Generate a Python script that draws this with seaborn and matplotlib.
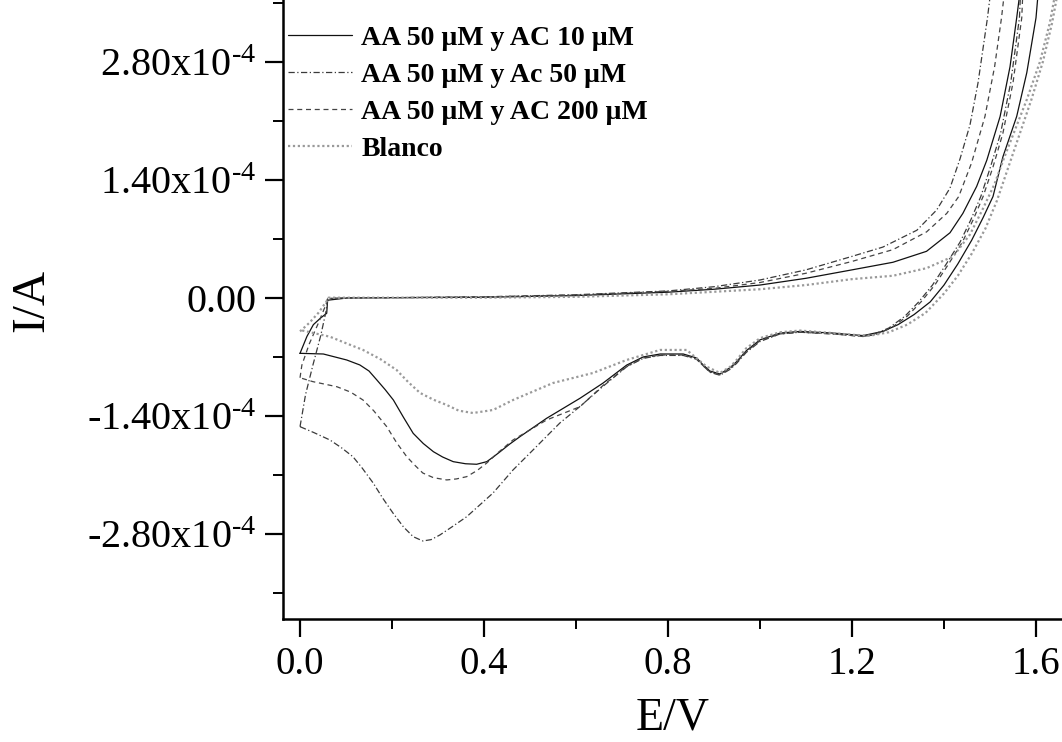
import numpy as np
import pandas as pd
import matplotlib
matplotlib.use("Agg")
import matplotlib.pyplot as plt
import seaborn as sns
from matplotlib.ticker import FixedLocator, FuncFormatter, MultipleLocator

# ---------------- data (E in V, I in units of 1e-4 A) ----------------
labels = ["AA 50 \u00b5M y AC 10 \u00b5M", "AA 50 \u00b5M y Ac 50 \u00b5M",
          "AA 50 \u00b5M y AC 200 \u00b5M", "Blanco"]

E_ac10 = [0.000, 0.015, 0.029, 0.045, 0.058, 0.060, 0.10, 0.2, 0.4, 0.6, 0.8, 0.9, 1.0, 1.1, 1.2,
          1.289, 1.362, 1.413, 1.441, 1.471, 1.493, 1.522, 1.5435, 1.558, 1.567,
          1.606, 1.600, 1.580, 1.558, 1.528, 1.5065, 1.485, 1.46, 1.43, 1.40, 1.37, 1.335, 1.30,
          1.267, 1.224, 1.159, 1.087, 1.0435, 1.0, 0.97, 0.949, 0.935, 0.913, 0.891, 0.875,
          0.862, 0.833, 0.783, 0.746, 0.710, 0.659, 0.6087, 0.536, 0.478, 0.455, 0.435, 0.42,
          0.406, 0.384, 0.36, 0.333, 0.31, 0.290, 0.268, 0.246, 0.225, 0.203, 0.185, 0.167,
          0.15, 0.130, 0.1015, 0.0507, 0.000]
I_ac10 = [-0.66, -0.46, -0.32, -0.24, -0.185, -0.03, -0.005, 0.0, 0.005, 0.025, 0.065, 0.10, 0.15,
          0.23, 0.33, 0.42, 0.55, 0.77, 1.0, 1.32, 1.63, 2.15, 2.74, 3.32, 3.7,
          3.7, 3.32, 2.67, 2.15, 1.67, 1.20, 0.95, 0.68, 0.40, 0.15, -0.05, -0.20, -0.32,
          -0.40, -0.45, -0.42, -0.40, -0.42, -0.50, -0.63, -0.76, -0.83, -0.905, -0.87, -0.79,
          -0.715, -0.668, -0.668, -0.703, -0.80, -1.012, -1.193, -1.431, -1.649, -1.74, -1.827,
          -1.89, -1.945, -1.976, -1.97, -1.945, -1.89, -1.827, -1.73, -1.609, -1.42, -1.214,
          -1.09, -0.976, -0.87, -0.798, -0.739, -0.668, -0.66]

E_ac50 = [0.000, 0.012, 0.028, 0.045, 0.057, 0.060, 0.1, 0.2, 0.4, 0.6, 0.8, 0.9, 1.0, 1.1, 1.2,
          1.267, 1.341, 1.384, 1.413, 1.435, 1.4565, 1.474, 1.4945, 1.503,
          1.567, 1.564, 1.545, 1.523, 1.501, 1.480, 1.458, 1.435, 1.405, 1.375, 1.345, 1.315,
          1.28, 1.245, 1.224, 1.159, 1.087, 1.0435, 1.0, 0.97, 0.949, 0.935, 0.913, 0.891,
          0.875, 0.862, 0.833, 0.783, 0.746, 0.710, 0.659, 0.6087, 0.565, 0.5065, 0.463,
          0.4196, 0.3624, 0.33, 0.304, 0.285, 0.267, 0.246, 0.225, 0.202, 0.18, 0.159, 0.135,
          0.115, 0.09, 0.065, 0.03, 0.000]
I_ac50 = [-1.53, -1.15, -0.80, -0.45, -0.15, -0.01, 0.0, 0.0, 0.01, 0.035, 0.08, 0.13, 0.21, 0.33,
          0.49, 0.60, 0.80, 1.04, 1.30, 1.65, 2.05, 2.55, 3.32, 3.7,
          3.7, 3.32, 2.55, 1.95, 1.55, 1.20, 0.92, 0.66, 0.40, 0.15, -0.05, -0.22,
          -0.36, -0.44, -0.46, -0.43, -0.41, -0.43, -0.52, -0.65, -0.78, -0.85, -0.92, -0.885,
          -0.80, -0.73, -0.685, -0.685, -0.72, -0.82, -1.05, -1.29, -1.486, -1.807, -2.044,
          -2.317, -2.598, -2.72, -2.815, -2.87, -2.886, -2.835, -2.72, -2.554, -2.38, -2.198,
          -2.02, -1.886, -1.78, -1.688, -1.60, -1.53]

E_ac200 = [0.000, 0.004, 0.02, 0.04, 0.055, 0.060, 0.1, 0.2, 0.4, 0.6, 0.8, 0.9, 1.0, 1.1, 1.2,
           1.289, 1.362, 1.406, 1.432, 1.46, 1.489, 1.51, 1.525, 1.533,
           1.572, 1.569, 1.55, 1.528, 1.5065, 1.485, 1.463, 1.44, 1.41, 1.38, 1.35, 1.32,
           1.285, 1.25, 1.224, 1.159, 1.087, 1.0435, 1.0, 0.97, 0.949, 0.935, 0.913, 0.891,
           0.875, 0.862, 0.833, 0.783, 0.746, 0.710, 0.659, 0.6087, 0.536, 0.463, 0.43, 0.406,
           0.385, 0.3624, 0.34, 0.319, 0.29, 0.267, 0.25, 0.232, 0.21, 0.1885, 0.16, 0.137,
           0.11, 0.08, 0.028, 0.000]
I_ac200 = [-0.95, -0.80, -0.55, -0.30, -0.10, -0.01, 0.0, 0.0, 0.01, 0.03, 0.075, 0.11, 0.18, 0.29,
           0.43, 0.57, 0.78, 1.0, 1.2, 1.60, 2.15, 2.74, 3.32, 3.7,
           3.7, 3.32, 2.55, 1.95, 1.55, 1.20, 0.92, 0.66, 0.40, 0.15, -0.05, -0.22,
           -0.36, -0.44, -0.46, -0.43, -0.41, -0.43, -0.51, -0.64, -0.77, -0.84, -0.915, -0.88,
           -0.80, -0.725, -0.68, -0.68, -0.715, -0.815, -1.04, -1.293, -1.451, -1.688, -1.84,
           -1.961, -2.05, -2.123, -2.15, -2.162, -2.135, -2.08, -1.99, -1.886, -1.72, -1.53,
           -1.34, -1.214, -1.12, -1.056, -0.996, -0.95]

E_blanco = [0.000, 0.02, 0.04, 0.058, 0.062, 0.1, 0.2, 0.4, 0.6, 0.8, 1.0, 1.1, 1.2, 1.289, 1.362,
            1.42, 1.4565, 1.485, 1.51, 1.53, 1.555, 1.58, 1.6087, 1.63, 1.645,
            1.65, 1.635, 1.615, 1.59, 1.565, 1.54, 1.515, 1.49, 1.46, 1.43, 1.40, 1.36, 1.32,
            1.28, 1.24, 1.2, 1.159, 1.087, 1.0435, 1.0, 0.97, 0.949, 0.935, 0.913, 0.884, 0.8406,
            0.7826, 0.71, 0.637, 0.55, 0.463, 0.4196, 0.376, 0.345, 0.319, 0.29, 0.261, 0.235,
            0.210, 0.175, 0.137, 0.10, 0.065, 0.000]
I_blanco = [-0.40, -0.30, -0.18, -0.04, 0.0, 0.0, 0.0, 0.0, 0.01, 0.04, 0.10, 0.15, 0.22, 0.26, 0.35,
            0.49, 0.75, 1.06, 1.35, 1.65, 2.0, 2.35, 2.8, 3.26, 3.7,
            3.7, 3.26, 2.8, 2.35, 1.95, 1.55, 1.15, 0.82, 0.52, 0.26, 0.05, -0.18, -0.32,
            -0.41, -0.45, -0.44, -0.42, -0.39, -0.41, -0.48, -0.60, -0.74, -0.82, -0.893, -0.818,
            -0.62, -0.62, -0.739, -0.893, -1.012, -1.214, -1.332, -1.368, -1.34, -1.273, -1.21,
            -1.130, -1.00, -0.858, -0.73, -0.62, -0.54, -0.463, -0.383]

y_ticks = [-2.8, -1.4, 0.0, 1.4, 2.8]
x_ticks = [0.0, 0.4, 0.8, 1.2, 1.6]

# ---------------- style ----------------
sns.set_style("ticks")
plt.rcParams["font.family"] = ["Liberation Serif", "DejaVu Serif"]
plt.rcParams["mathtext.fontset"] = "custom"
plt.rcParams["mathtext.rm"] = "Liberation Serif"
plt.rcParams["mathtext.it"] = "Liberation Serif:italic"
plt.rcParams["mathtext.bf"] = "Liberation Serif:bold"
plt.rcParams["axes.unicode_minus"] = False
for k in ["text.color", "axes.labelcolor", "xtick.color", "ytick.color", "axes.edgecolor"]:
    plt.rcParams[k] = "black"

W, H = 1062, 742
fig = plt.figure(figsize=(W / 100, H / 100), dpi=100)
left_px, bottom_px = 283, 619.3
ax = fig.add_axes([left_px / W, 1 - bottom_px / H, 1 - left_px / W, bottom_px / H])

series = [
    (E_ac10, I_ac10, dict(color="#111111", linestyle="-", lw=0.9)),
    (E_ac50, I_ac50, dict(color="#3a3a3a", linestyle=(0, (5, 2, 1, 2)), lw=0.9)),
    (E_ac200, I_ac200, dict(color="#444444", linestyle=(0, (4, 3)), lw=0.9)),
    (E_blanco, I_blanco, dict(color="#9a9a9a", linestyle=(0, (1, 1.2)), lw=1.6)),
]
for (E, I, kw), lab in zip(series, labels):
    df = pd.DataFrame({"E": E, "I": np.array(I) * 1e-4})
    sns.lineplot(data=df, x="E", y="I", sort=False, estimator=None, ax=ax, label=lab, **kw)

ax.set_xlim(-0.037, 1.6565)
ax.set_ylim(-3.815e-4, 3.531e-4)

ax.xaxis.set_major_locator(FixedLocator(x_ticks))
ax.xaxis.set_minor_locator(MultipleLocator(0.2))
ax.xaxis.set_major_formatter(FuncFormatter(lambda v, p: f"{v:.1f}"))
ax.yaxis.set_major_locator(FixedLocator([t * 1e-4 for t in y_ticks]))
ax.yaxis.set_minor_locator(MultipleLocator(0.7e-4))


def yfmt(v, p):
    m = v / 1e-4
    if abs(m) < 1e-9:
        return "0.00"
    return f"{m:.2f}x10$^{{\\text{{-4}}}}$"


ax.yaxis.set_major_formatter(FuncFormatter(yfmt))

for s in ["top", "right"]:
    ax.spines[s].set_visible(False)
for s in ["left", "bottom"]:
    ax.spines[s].set_linewidth(1.8)
    ax.spines[s].set_color("black")

ax.tick_params(axis="both", which="major", direction="out", length=13, width=1.6,
               color="black", pad=6, labelcolor="black")
ax.tick_params(axis="both", which="minor", direction="out", length=7, width=1.4, color="black")
ax.tick_params(axis="y", which="major", labelsize=29)
ax.tick_params(axis="x", which="major", labelsize=28)

ax.set_xlabel("E/V", fontsize=33, color="black")
ax.set_ylabel("I/A", fontsize=34, color="black")
ax.xaxis.set_label_coords(0.5, (bottom_px - 697) / bottom_px)
ax.yaxis.set_label_coords((53 - left_px) / (W - left_px), 1 - 300 / bottom_px)

leg = ax.legend(loc="upper left", bbox_to_anchor=(0.006, 0.959), frameon=False,
                prop={"family": "Liberation Serif", "weight": "bold", "size": 20},
                handlelength=2.3, handletextpad=0.35, labelspacing=0.42,
                borderpad=0.0, borderaxespad=0.0)
for t in leg.get_texts():
    t.set_color("black")

fig.savefig("out.png", dpi=100)
